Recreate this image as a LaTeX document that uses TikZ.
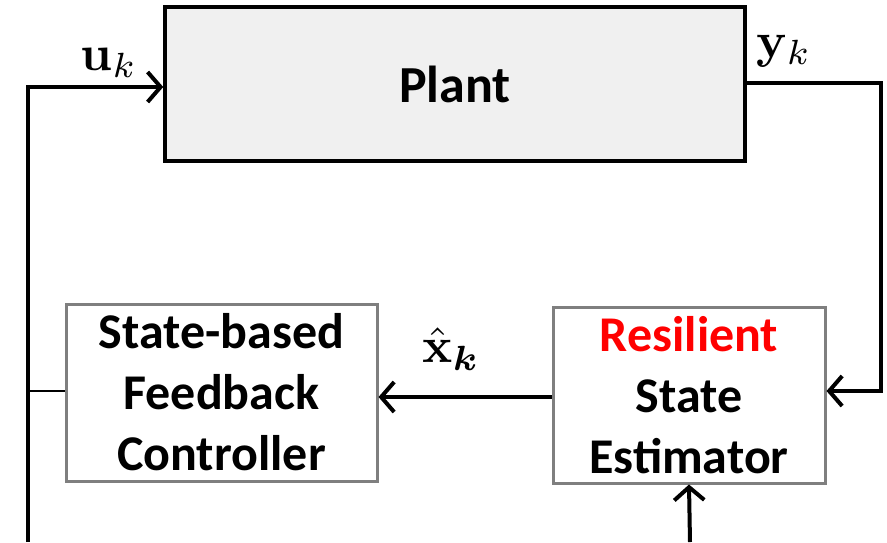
\documentclass[tikz,border=0pt]{standalone}
\usepackage{bm}
\usepackage[no-math]{fontspec}
\setmainfont{Carlito}
\usetikzlibrary{arrows.meta}
\definecolor{boxgray}{HTML}{7F7F7F}
\definecolor{plantfill}{HTML}{F0F0F0}
\definecolor{hired}{HTML}{FF0000}
\begin{document}
\begin{tikzpicture}[x=1pt,y=-1pt,
  wire/.style={line width=4pt},
  tip/.style={-{Straight Barb[length=13pt,width=30pt,line width=4pt]}},
  blockbox/.style={draw=boxgray, line width=3pt, align=center,
    font=\bfseries\fontsize{50}{61}\selectfont},
  mathlab/.style={scale=5, inner sep=0pt}]
  \useasboundingbox (0,0) rectangle (887,542);

  % blocks
  \node[draw=black, line width=3.5pt, fill=plantfill, minimum width=580pt,
        minimum height=154pt, font=\bfseries\fontsize{52}{60}\selectfont]
        (plant) at (455,84) {Plant};
  \node[blockbox, minimum width=311pt, minimum height=177pt]
        (ctrl) at (221.5,392.5) {State-based\\Feedback\\Controller};
  \node[blockbox, minimum width=272pt, minimum height=176pt]
        (est) at (689,395) {\textcolor{hired}{Resilient}\\State\\Estimator};

  % loop corners and free ends
  \coordinate (bl) at (28,542);
  \coordinate (yr) at (881,83);
  \coordinate (br) at (690,542);

  % connectors
  \draw[wire, tip] (bl) |- ([yshift=-3pt]plant.west);
  \draw[line width=2pt] ([yshift=2pt]ctrl.west) -- ([yshift=2pt]ctrl.west -| bl);
  \draw[wire, tip] ([yshift=1pt]plant.east) -- (yr) |- ([yshift=4pt]est.east);
  \draw[wire, tip] ([yshift=-2pt]est.west) -- ([yshift=-4.5pt]ctrl.east);
  \draw[wire, tip] (br) -- (est.south);

  % signal labels
  \node[mathlab] (ulab) at (109,63) {$\mathbf{u}_k$};
  \node[mathlab] (ylab) at (784,51) {$\mathbf{y}_k$};
  \node[mathlab] (xlab) at (451,349) {$\hat{\mathbf{x}}_{\bm{k}}$};
\end{tikzpicture}
\end{document}
